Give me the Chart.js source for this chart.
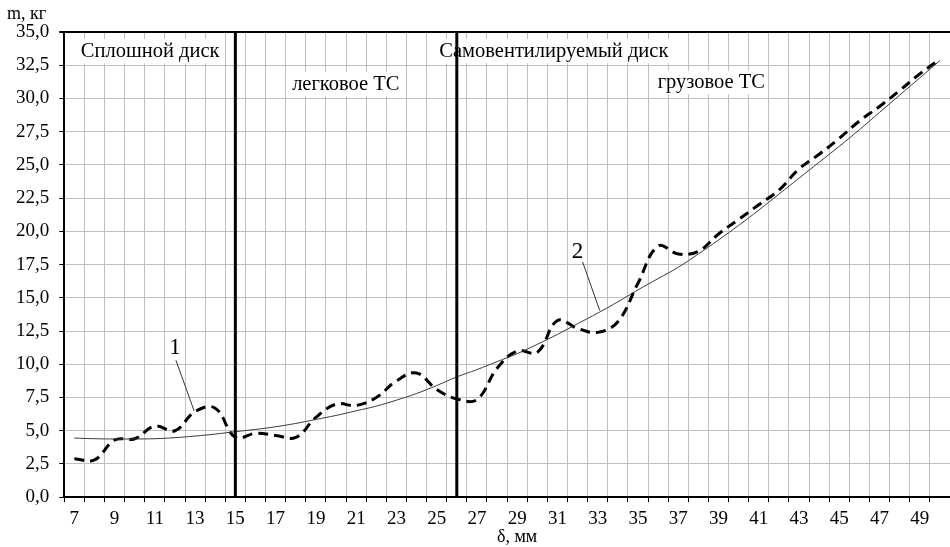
<!DOCTYPE html>
<html>
<head>
<meta charset="utf-8">
<script src="https://cdn.jsdelivr.net/npm/chart.js@4.4.3/dist/chart.umd.min.js"></script>
<style>
  html, body { margin: 0; padding: 0; background: #fff; }
  #wrap { width: 950px; height: 547px; position: relative; }
</style>
</head>
<body>
<div id="wrap"><canvas id="chart"></canvas></div>
<script>
// disc thickness, mm
const categories = [7, 8, 9, 10, 11, 12, 13, 14, 15, 16, 17, 18, 19, 20, 21, 22, 23, 24, 25, 26, 27, 28,
    29, 30, 31, 32, 33, 34, 35, 36, 37, 38, 39, 40, 41, 42, 43, 44, 45, 46, 47, 48, 49, 50];
// curve 1 - mass of discs, kg
const measured = [2.9, 2.8, 4.3, 4.4, 5.35, 5.0, 6.45, 6.7, 4.5, 4.8, 4.65, 4.5, 6.0, 7.0, 6.9, 7.5, 8.75, 9.35,
    8.1, 7.4, 7.35, 9.7, 11.0, 10.9, 13.3, 12.7, 12.4, 13.2, 16.1, 18.9, 18.3, 18.5, 19.8, 20.9, 22.0, 23.1,
    24.7, 25.8, 27.0, 28.3, 29.4, 30.6, 31.85, 32.95];
// curve 2 - trend line
const trend = [4.45, 4.4, 4.38, 4.38, 4.4, 4.48, 4.6, 4.75, 4.93, 5.1, 5.3, 5.55, 5.85, 6.15, 6.5, 6.85, 7.3,
    7.8, 8.4, 9.05, 9.6, 10.2, 10.8, 11.5, 12.25, 13.05, 13.85, 14.7, 15.6, 16.45, 17.3, 18.3, 19.35, 20.45,
    21.6, 22.8, 24.0, 25.2, 26.4, 27.65, 28.95, 30.25, 31.55, 32.85];
// zone borders (thick vertical lines)
const dividers = [15, 26];
const yMin = 0, yMax = 35, yStep = 2.5;

// text notes, anchored in data units
const zoneNotes = [
    { text: 'Сплошной диск', x: 7.32, y: 33.55 },
    { text: 'легковое ТС', x: 17.82, y: 31.07 },
    { text: 'Самовентилируемый диск', x: 25.13, y: 33.55 },
    { text: 'грузовое ТС', x: 35.98, y: 31.2 }
];
const curveNotes = [
    { text: '1', x: 12.0, y: 11.25, from: [12.05, 10.3], to: [12.95, 6.5] },
    { text: '2', x: 32.0, y: 18.45, from: [32.25, 17.7], to: [33.1, 14.05] }
];

const FONT = '"Liberation Serif", "Times New Roman", serif';

function xPix(scale, v) {
    return scale.getPixelForValue(v - categories[0]);
}

const notesPlugin = {
    id: 'notes',
    beforeDatasetsDraw(chart) {
        const { ctx, scales: { x, y } } = chart;
        ctx.save();
        ctx.font = '20.5px ' + FONT;
        ctx.textBaseline = 'middle';
        ctx.textAlign = 'left';
        zoneNotes.forEach(n => {
            const px = xPix(x, n.x);
            const py = y.getPixelForValue(n.y);
            const w = ctx.measureText(n.text).width;
            ctx.fillStyle = '#fff';
            ctx.fillRect(px - 3, py - 12, w + 6, 24);
            ctx.fillStyle = '#000';
            ctx.fillText(n.text, px, py);
        });
        ctx.restore();
    },
    afterDraw(chart) {
        const { ctx, chartArea, scales: { x, y } } = chart;
        ctx.save();
        // curve numbers with leader lines
        ctx.strokeStyle = '#333';
        ctx.lineWidth = 1;
        ctx.font = '23px ' + FONT;
        ctx.textAlign = 'center';
        ctx.textBaseline = 'middle';
        ctx.fillStyle = '#000';
        curveNotes.forEach(n => {
            ctx.beginPath();
            ctx.moveTo(xPix(x, n.from[0]), y.getPixelForValue(n.from[1]));
            ctx.lineTo(xPix(x, n.to[0]), y.getPixelForValue(n.to[1]));
            ctx.stroke();
            ctx.fillText(n.text, xPix(x, n.x), y.getPixelForValue(n.y));
        });
        // axis titles
        ctx.font = '18px ' + FONT;
        ctx.textAlign = 'left';
        ctx.fillText('m, кг', 7, chartArea.top - 18);
        ctx.textAlign = 'center';
        ctx.fillText('δ, мм', (chartArea.left + chartArea.right) / 2 + 10, chart.height - 10);
        ctx.restore();
    }
};

const dividerSets = dividers.map(d => ({
    data: [{ x: d, y: yMin }, { x: d, y: yMax }],
    borderColor: '#000',
    borderWidth: 3,
    pointRadius: 0,
    tension: 0,
    order: 0
}));

new Chart(document.getElementById('chart'), {
    type: 'line',
    data: {
        labels: categories,
        datasets: [
            {
                label: '1',
                data: measured,
                borderColor: '#000',
                borderWidth: 3,
                borderDash: [10, 6],
                pointRadius: 0,
                tension: 0.4,
                order: 2
            },
            {
                label: '2',
                data: trend,
                borderColor: '#3a3a3a',
                borderWidth: 1,
                pointRadius: 0,
                tension: 0.4,
                order: 1
            },
            ...dividerSets
        ]
    },
    options: {
        responsive: true,
        maintainAspectRatio: false,
        animation: false,
        layout: { padding: { top: 32, left: 6, right: 0, bottom: 12 } },
        plugins: {
            legend: { display: false },
            tooltip: { enabled: false }
        },
        scales: {
            x: {
                type: 'category',
                offset: true,
                grid: {
                    offset: true,
                    color: '#c0c0c0',
                    lineWidth: 1,
                    tickLength: 5,
                    tickColor: '#000'
                },
                border: { display: true, color: '#000', width: 2 },
                ticks: {
                    autoSkip: false,
                    maxRotation: 0,
                    padding: 5,
                    color: '#000',
                    font: { family: FONT, size: 19 },
                    callback: function (val, i) {
                        const c = categories[i];
                        return c % 2 === 1 ? String(c) : '';
                    }
                }
            },
            y: {
                min: yMin,
                max: yMax,
                grid: {
                    color: ctx => ctx.tick && ctx.tick.value === yMax ? '#000' : '#c0c0c0',
                    lineWidth: ctx => ctx.tick && ctx.tick.value === yMax ? 2 : 1,
                    tickLength: 5,
                    tickColor: '#000'
                },
                border: { display: true, color: '#000', width: 2 },
                ticks: {
                    stepSize: yStep,
                    padding: 10,
                    color: '#000',
                    font: { family: FONT, size: 19 },
                    callback: v => v.toFixed(1).replace('.', ',')
                }
            }
        }
    },
    plugins: [notesPlugin]
});
</script>
</body>
</html>
